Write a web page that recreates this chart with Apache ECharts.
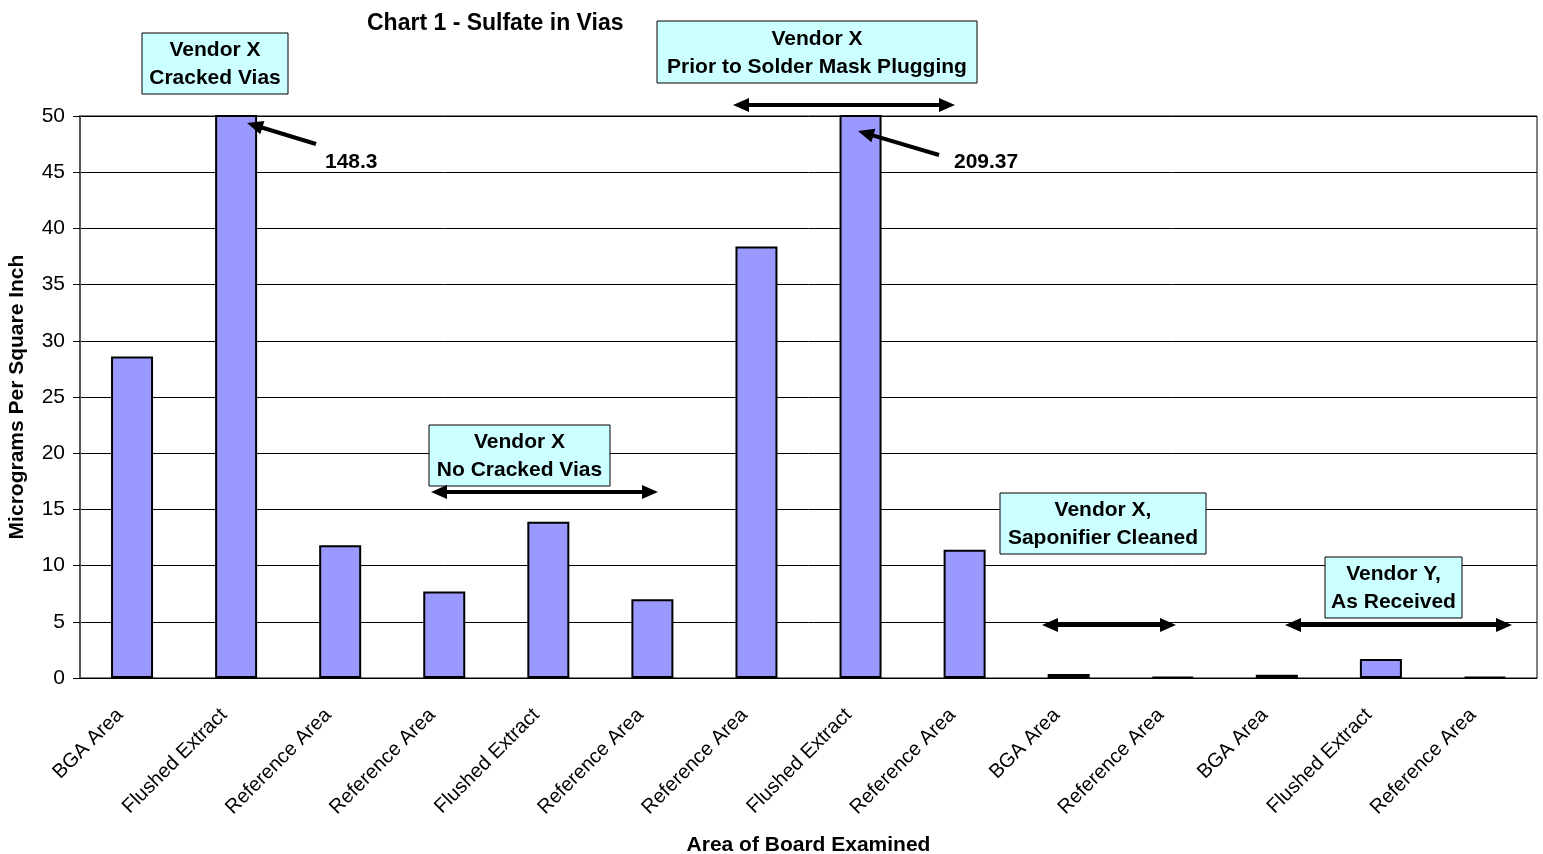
<!DOCTYPE html>
<html>
<head>
<meta charset="utf-8">
<script src="https://cdn.jsdelivr.net/npm/echarts@6/dist/echarts.min.js"></script>
<style>
  html, body { margin: 0; padding: 0; background: #fff; }
  #main { width: 1543px; height: 854px; }
</style>
</head>
<body>
<div id="main"></div>
<script>
var categories = ['BGA Area', 'Flushed Extract', 'Reference Area', 'Reference Area', 'Flushed Extract',
  'Reference Area', 'Reference Area', 'Flushed Extract', 'Reference Area', 'BGA Area',
  'Reference Area', 'BGA Area', 'Flushed Extract', 'Reference Area']
var sulfate = [28.6, 148.3, 11.8, 7.7, 13.9, 7.0, 38.4, 209.37, 11.4, 0.35, 0.1, 0.3, 1.7, 0.1]
var yTicks = [0, 5, 10, 15, 20, 25, 30, 35, 40, 45, 50]

var FONT = 'Liberation Sans, Arial, sans-serif'

function arrow (x1, y1, x2, y2, both) {
  var items = []
  var dx = x2 - x1, dy = y2 - y1
  var len = Math.sqrt(dx * dx + dy * dy)
  var ux = dx / len, uy = dy / len
  var hl = 16, hw = 7
  function head (px, py, sx, sy) {
    return {
      type: 'polygon',
      z: 100,
      shape: { points: [[px, py], [px - sx * hl - sy * hw, py - sy * hl + sx * hw], [px - sx * hl + sy * hw, py - sy * hl - sx * hw]] },
      style: { fill: '#000' }
    }
  }
  var sx1 = both ? x1 + ux * hl * 0.8 : x1
  var sy1 = both ? y1 + uy * hl * 0.8 : y1
  items.push({ type: 'line', z: 100, shape: { x1: sx1, y1: sy1, x2: x2 - ux * hl * 0.8, y2: y2 - uy * hl * 0.8 }, style: { stroke: '#000', lineWidth: 4 } })
  items.push(head(x2, y2, ux, uy))
  if (both) items.push(head(x1, y1, -ux, -uy))
  return items
}

function box (x, y, w, h, text) {
  return {
    type: 'group',
    z: 100,
    children: [
      { type: 'rect', z: 100, shape: { x: x, y: y, width: w, height: h }, style: { fill: '#ccffff', stroke: '#000', lineWidth: 1 } },
      { type: 'text', z: 101, x: x + w / 2, y: y + h / 2 + 1, style: { text: text, fill: '#000', font: 'bold 21px ' + FONT, align: 'center', verticalAlign: 'middle', lineHeight: 28 } }
    ]
  }
}

function label (x, y, text) {
  return { type: 'text', z: 100, x: x, y: y, style: { text: text, fill: '#000', font: 'bold 21px ' + FONT, verticalAlign: 'middle' } }
}

var graphics = [].concat(
  [box(142, 33, 146, 61, 'Vendor X\nCracked Vias'),
   box(657, 21, 320, 62, 'Vendor X\nPrior to Solder Mask Plugging'),
   box(429, 425, 181, 61, 'Vendor X\nNo Cracked Vias'),
   box(1000, 493, 206, 61, 'Vendor X,\nSaponifier Cleaned'),
   box(1325, 557, 137, 61, 'Vendor Y,\nAs Received'),
   label(325, 162, '148.3'),
   label(954, 162, '209.37')],
  arrow(316, 144, 247, 123, false),
  arrow(939, 155, 858, 131, false),
  arrow(733, 105, 955, 105, true),
  arrow(431, 492, 658, 492, true),
  arrow(1042, 625, 1176, 625, true),
  arrow(1285, 625, 1512, 625, true)
)

var myChart = echarts.init(document.getElementById('main'))
myChart.setOption({
  animation: false,
  backgroundColor: '#fff',
  title: {
    text: 'Chart 1 - Sulfate in Vias',
    left: 362,
    top: 7,
    textStyle: { fontFamily: FONT, fontSize: 23, fontWeight: 'bold', color: '#000' }
  },
  grid: {
    left: 80, right: 6, top: 116, bottom: 176,
    containLabel: false, outerBoundsMode: 'none',
    show: true, borderColor: '#000', borderWidth: 1
  },
  xAxis: {
    type: 'category',
    data: categories,
    name: 'Area of Board Examined',
    nameLocation: 'middle',
    nameGap: 157,
    nameTextStyle: { fontFamily: FONT, fontSize: 21, fontWeight: 'bold', color: '#000' },
    axisLine: { lineStyle: { color: '#000', width: 1 } },
    axisTick: { length: 7, lineStyle: { color: '#555' } },
    axisLabel: { rotate: 45, margin: 22, padding: [0, 17, 0, 0], fontFamily: FONT, fontSize: 20, color: '#000', interval: 0 }
  },
  yAxis: {
    type: 'value',
    min: yTicks[0],
    max: yTicks[yTicks.length - 1],
    interval: yTicks[1] - yTicks[0],
    name: 'Micrograms Per Square Inch',
    nameLocation: 'middle',
    nameGap: 52,
    nameTextStyle: { fontFamily: FONT, fontSize: 21, fontWeight: 'bold', color: '#000' },
    axisLine: { show: true, lineStyle: { color: '#555', width: 2 } },
    axisTick: { show: true, length: 7, lineStyle: { color: '#000' } },
    axisLabel: { margin: 15, fontFamily: FONT, fontSize: 21, color: '#000' },
    splitLine: { lineStyle: { color: '#000', width: 1 } }
  },
  series: [{
    name: 'Sulfate',
    type: 'bar',
    data: sulfate,
    barWidth: 42,
    itemStyle: { color: '#9999ff', borderColor: '#000', borderWidth: 2 }
  }],
  graphic: graphics
})
</script>
</body>
</html>
